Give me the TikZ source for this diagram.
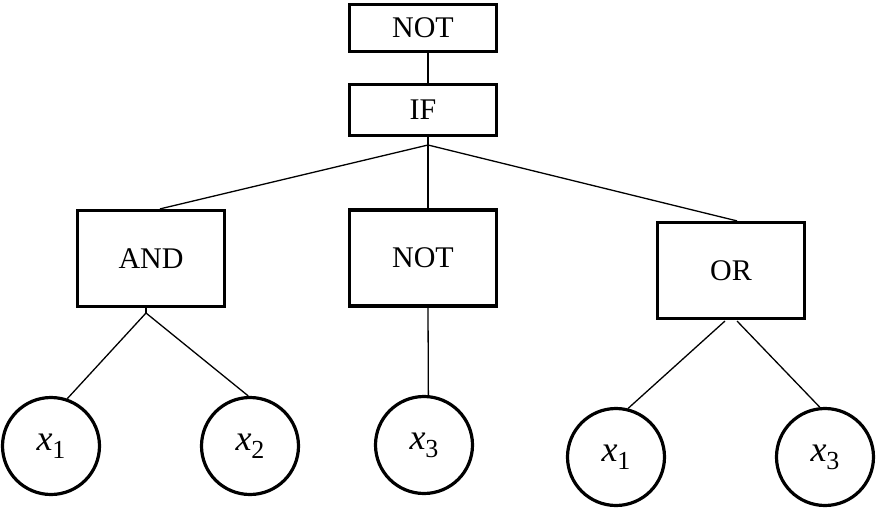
\documentclass[tikz,border=0pt]{standalone}
\usepackage{fontspec}
\setmainfont{Liberation Serif}
\newcommand\varx[1]{\textit{x}\raisebox{-8pt}{\fontsize{26}{26}\selectfont #1}}
\begin{document}
\begin{tikzpicture}[x=1pt,y=-1pt,
  opbox/.style={draw,line width=3.2pt,inner sep=0pt,font=\fontsize{30}{30}\selectfont},
  leaf/.style={draw,circle,line width=3.2pt,minimum size=97pt,inner sep=0pt,font=\fontsize{36}{36}\selectfont},
  edge/.style={line width=1.3pt}]
\useasboundingbox (0,0) rectangle (876,509);
\node[opbox,minimum width=147pt,minimum height=47pt] (not1) at (423,28) {NOT};
\node[opbox,minimum width=147pt,minimum height=51pt] (if) at (423,110) {IF};
\node[opbox,minimum width=147pt,minimum height=96pt] (and) at (151,258.5) {AND};
\node[opbox,minimum width=147pt,minimum height=96pt] (not2) at (423,258) {NOT};
\node[opbox,minimum width=147pt,minimum height=96pt] (or) at (731,270.5) {OR};
\node[leaf] (a1) at (51,446) {\varx{1}};
\node[leaf] (a2) at (250,446) {\varx{2}};
\node[leaf] (a3) at (424,445) {\varx{3}};
\node[leaf] (b1) at (616,457) {\varx{1}};
\node[leaf] (b3) at (825,457) {\varx{3}};
\coordinate (j) at (428,145);
\coordinate (ja) at (146,313);
\coordinate (jo1) at (725,321);
\coordinate (jo2) at (737,321);
\draw[edge] ([xshift=5pt]not1.south) -- ([xshift=5pt]if.north);
\draw[edge] ([xshift=5pt]if.south) -- (j);
\draw[edge] (j) -- ([xshift=9pt]and.north);
\draw[edge] (j) -- ([xshift=5pt]not2.north);
\draw[edge] (j) -- ([xshift=6pt]or.north);
\draw[edge] ([xshift=-5pt]and.south) -- (ja);
\draw[edge] (ja) -- (a1.71);
\draw[edge] (ja) -- (a2.92);
\draw[edge] ([xshift=5pt]not2.south) -- (a3.85);
\draw[edge] (jo1) -- (b1.76);
\draw[edge] (jo2) -- (b3.96);
\end{tikzpicture}
\end{document}
